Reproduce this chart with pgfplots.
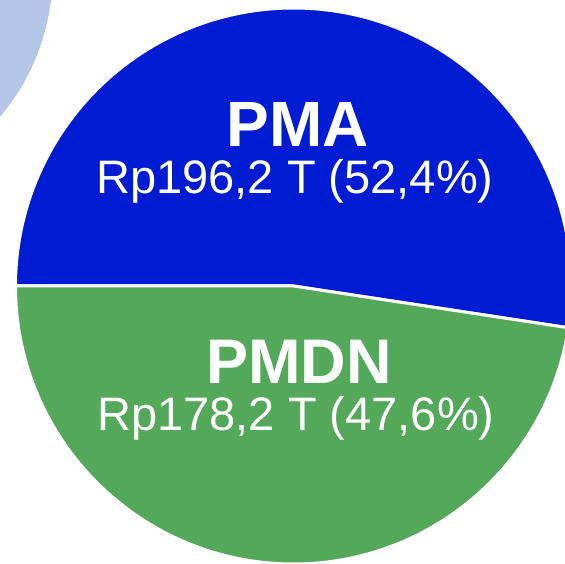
\documentclass[border=0pt]{standalone}
\usepackage{pgfplots}
\pgfplotsset{compat=1.18}
\usepackage{fontspec}
\setmainfont{Liberation Sans}

\definecolor{pmablue}{RGB}{0,28,210}
\definecolor{pmdngreen}{RGB}{84,168,90}
\definecolor{lightpie}{RGB}{180,199,231}

% slice shares in percent (PMA, PMDN)
\def\pma{52.4}
\def\pmdn{47.6}

\begin{document}
\begin{tikzpicture}
\begin{axis}[
    x=1pt, y=1pt,
    xmin=0, xmax=565, ymin=0, ymax=564,
    hide axis, clip=true,
]
% neighbouring pie, only its edge shows
\fill[lightpie] (axis cs:-169.5,590.5) circle[radius=222pt];

\pgfmathsetmacro{\split}{180-3.6*\pma}
% PMA slice
\filldraw[pmablue, draw=white, line width=3pt, line join=round]
  (axis cs:293.5,278) -- ++(\split:278pt)
  arc[start angle=\split, end angle=180, radius=278pt] -- cycle;
% PMDN slice
\filldraw[pmdngreen, draw=white, line width=3pt, line join=round]
  (axis cs:293.5,278) -- ++(180:278pt)
  arc[start angle=180, end angle=\split+360, radius=278pt] -- cycle;

\tikzset{lbl/.style={white, inner sep=0pt, anchor=base,
    text height=0.74em, text depth=0.2em}}
\node[lbl, font=\bfseries\fontsize{64}{64}\selectfont]
  at (axis cs:298,417) {PMA};
\node[lbl, font=\fontsize{47}{47}\selectfont]
  at (axis cs:295,370) {Rp196,2 T (52,4\%)};
\node[lbl, font=\bfseries\fontsize{63}{63}\selectfont]
  at (axis cs:299,180) {PMDN};
\node[lbl, font=\fontsize{47}{47}\selectfont]
  at (axis cs:296,133) {Rp178,2 T (47,6\%)};
\end{axis}
\end{tikzpicture}
\end{document}
